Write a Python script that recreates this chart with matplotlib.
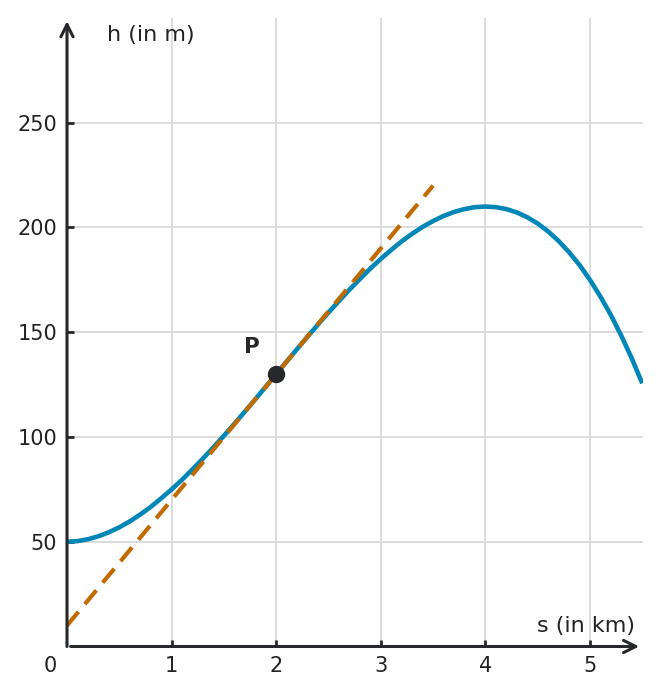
import numpy as np
import matplotlib.pyplot as plt

# Hoehenprofil (s in km, h in m), Schritt 0.1 km
s_werte = [round(0.1 * i, 1) for i in range(56)]
h_werte = [50.0, 50.3, 51.2, 52.6, 54.5, 56.9, 59.7, 63.0, 66.6, 70.7,
           75.0, 79.6, 84.6, 89.7, 95.1, 100.6, 106.3, 112.1, 118.0, 124.0,
           130.0, 136.0, 142.0, 147.9, 153.7, 159.4, 164.9, 170.3, 175.4, 180.4,
           185.0, 189.3, 193.4, 197.0, 200.3, 203.1, 205.5, 207.4, 208.8, 209.7,
           210.0, 209.7, 208.8, 207.2, 204.9, 201.9, 198.1, 193.6, 188.2, 182.1,
           175.0, 167.0, 158.2, 148.3, 137.5, 125.6]

# Tangente in P
tangente_s = [0.0, 3.5]
tangente_h = [10, 220]
punkt_P = (2, 130)

x_ticks = [1, 2, 3, 4, 5]
y_ticks = [50, 100, 150, 200, 250]

blau = '#0087b8'
orange = '#c06a00'
dunkel = '#27282c'

fig = plt.figure(figsize=(6.61, 6.95), dpi=100)
ax = fig.add_axes([67/661, 1 - 646.5/695, (643 - 67)/661, (646.5 - 18)/695])
ax.set_xlim(0, 5.507)
ax.set_ylim(0, 300)

for sp in ax.spines.values():
    sp.set_visible(False)

# gitter
for x in x_ticks:
    ax.axvline(x, color='#d9d9d9', lw=1.3, zorder=0)
for y in y_ticks:
    ax.axhline(y, color='#d9d9d9', lw=1.3, zorder=0)

ax.plot(s_werte, h_werte, color=blau, lw=3.3, solid_capstyle='butt', zorder=2)
ax.plot(tangente_s, tangente_h, color=orange, lw=3.0, dashes=(4.3, 2.4), zorder=3)
ax.plot(*punkt_P, 'o', color=dunkel, ms=11.5, zorder=4)
ax.text(1.77, 143, 'P', fontsize=15.5, fontweight='bold', color=dunkel,
        ha='center', va='center')

# achsen mit pfeilen
ax.annotate('', xy=(5.47, 0), xytext=(0.035, 0),
            arrowprops=dict(arrowstyle='->', color=dunkel, lw=2.2,
                            mutation_scale=22, shrinkA=0, shrinkB=0),
            annotation_clip=False)
ax.annotate('', xy=(0, 298.5), xytext=(0, 0),
            arrowprops=dict(arrowstyle='->', color=dunkel, lw=2.2,
                            mutation_scale=22, shrinkA=0, shrinkB=0),
            annotation_clip=False)

ax.set_xticks(x_ticks)
ax.set_yticks(y_ticks)
ax.tick_params(direction='in', length=5, width=2, color=dunkel,
               labelsize=15, labelcolor='#222222', pad=7)
ax.tick_params(axis='y', pad=7)
ax.text(-0.16, -4.5, '0', fontsize=15, color='#222222', ha='center', va='top')

ax.text(0.38, 292, 'h (in m)', fontsize=16, color='#222222', ha='left', va='center')
ax.text(5.43, 7, 's (in km)', fontsize=16, color='#222222', ha='right', va='baseline')

fig.savefig('out.png', dpi=100)
